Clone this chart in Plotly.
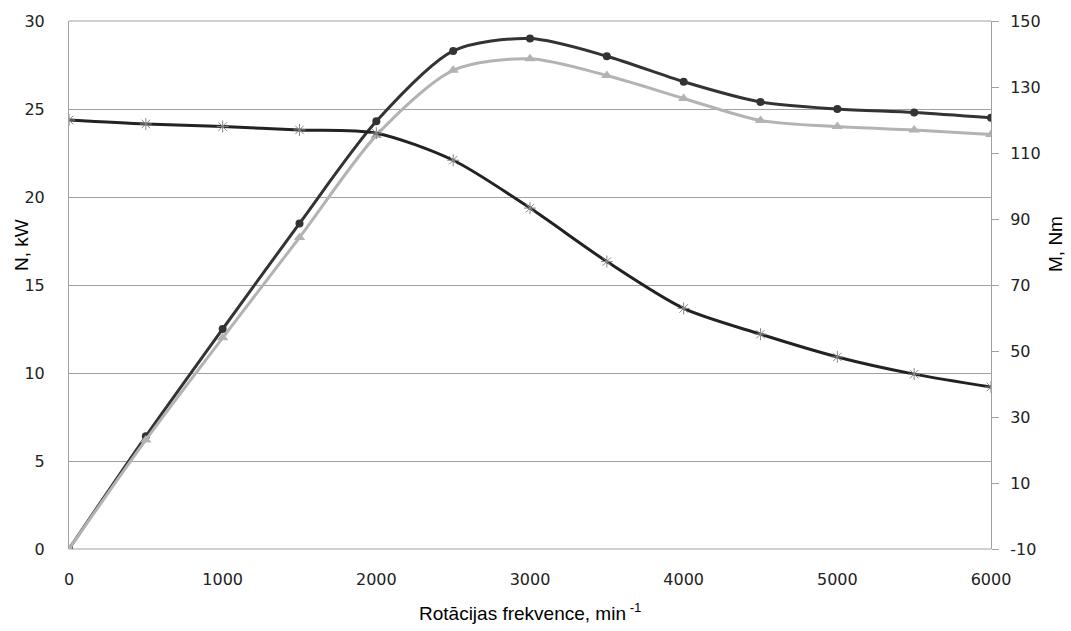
import plotly.graph_objects as go

# Engine speed, min^-1
rpm = [0, 500, 1000, 1500, 2000, 2500, 3000, 3500, 4000, 4500, 5000, 5500, 6000]

# Power curves, kW (left axis)
power_n1 = [0, 6.4, 12.5, 18.5, 24.3, 28.3, 29.0, 28.0, 26.55, 25.4, 25.0, 24.8, 24.5]
power_n2 = [0, 6.2, 12.0, 17.7, 23.5, 27.2, 27.85, 26.9, 25.6, 24.35, 24.0, 23.8, 23.55]

# Torque curve, Nm (right axis)
torque_m = [120, 118.8, 118.0, 117.0, 116.0, 107.8, 93.3, 77.1, 62.9, 55.1, 48.2, 43.0, 39.1]

left_ticks = [0, 5, 10, 15, 20, 25, 30]
right_ticks = [-10, 10, 30, 50, 70, 90, 110, 130, 150]
x_ticks = [0, 1000, 2000, 3000, 4000, 5000, 6000]

tick_font = dict(family="DejaVu Sans", size=16, color="#222222")
title_font = dict(family="Liberation Sans", size=19, color="#000000")
frame_color = "#a0a0a0"

fig = go.Figure()

fig.add_trace(go.Scatter(
    x=rpm, y=power_n1, mode="lines+markers",
    line=dict(color="#333333", width=3, shape="spline", smoothing=0.8),
    marker=dict(symbol="circle", size=8, color="#333333"),
    showlegend=False,
))
fig.add_trace(go.Scatter(
    x=rpm, y=power_n2, mode="lines+markers",
    line=dict(color="#b3b3b3", width=3, shape="spline", smoothing=0.8),
    marker=dict(symbol="triangle-up", size=10, color="#b3b3b3"),
    showlegend=False,
))
fig.add_trace(go.Scatter(
    x=rpm, y=torque_m, mode="lines+markers", yaxis="y2",
    line=dict(color="#222222", width=3, shape="spline", smoothing=0.8),
    marker=dict(symbol="asterisk-open", size=10, color="#888888",
                line=dict(color="#888888", width=1)),
    showlegend=False,
))

fig.update_layout(
    width=1071, height=631,
    margin=dict(l=69, r=80, t=18, b=82),
    paper_bgcolor="white", plot_bgcolor="white",
    xaxis=dict(
        range=[0, 6000], tickvals=x_ticks, ticktext=[str(v) for v in x_ticks],
        showgrid=False, zeroline=False, showline=False,
        ticks="", tickfont=tick_font, ticklabelstandoff=19,
    ),
    yaxis=dict(
        range=[0, 30], tickvals=left_ticks, ticktext=[str(v) for v in left_ticks],
        showgrid=True, gridcolor=frame_color, gridwidth=1,
        zeroline=False, showline=True, linecolor=frame_color, linewidth=1,
        ticks="", tickfont=tick_font, ticklabelstandoff=20,
    ),
    yaxis2=dict(
        range=[-10, 150], tickvals=right_ticks, ticktext=[str(v) for v in right_ticks],
        overlaying="y", side="right", showgrid=False, zeroline=False,
        showline=True, linecolor=frame_color, linewidth=1,
        ticks="outside", ticklen=7, tickcolor=frame_color,
        tickfont=tick_font, ticklabelstandoff=8,
    ),
    annotations=[
        dict(text="N, kW", xref="paper", yref="paper", x=0, y=0.5, xshift=-48, yshift=40,
             textangle=-90, showarrow=False, font=title_font,
             xanchor="center", yanchor="middle"),
        dict(text="M, Nm", xref="paper", yref="paper", x=1, y=0.5, xshift=64, yshift=41,
             textangle=-90, showarrow=False, font=title_font,
             xanchor="center", yanchor="middle"),
        dict(text="Rotācijas frekvence, min<sup> -1</sup>", xref="paper", yref="paper",
             x=0.5, y=0, yshift=-63, showarrow=False, font=title_font,
             xanchor="center", yanchor="middle"),
    ],
)

# Frame lines at the bottom (0 kW) and top (30 kW) of the plot area
fig.add_shape(type="line", xref="paper", yref="paper", x0=0, x1=1, y0=0, y1=0,
              line=dict(color=frame_color, width=1), layer="below")
fig.add_shape(type="line", xref="paper", yref="paper", x0=0, x1=1, y0=1, y1=1,
              line=dict(color=frame_color, width=1), layer="below")

fig.write_html("out.html")
